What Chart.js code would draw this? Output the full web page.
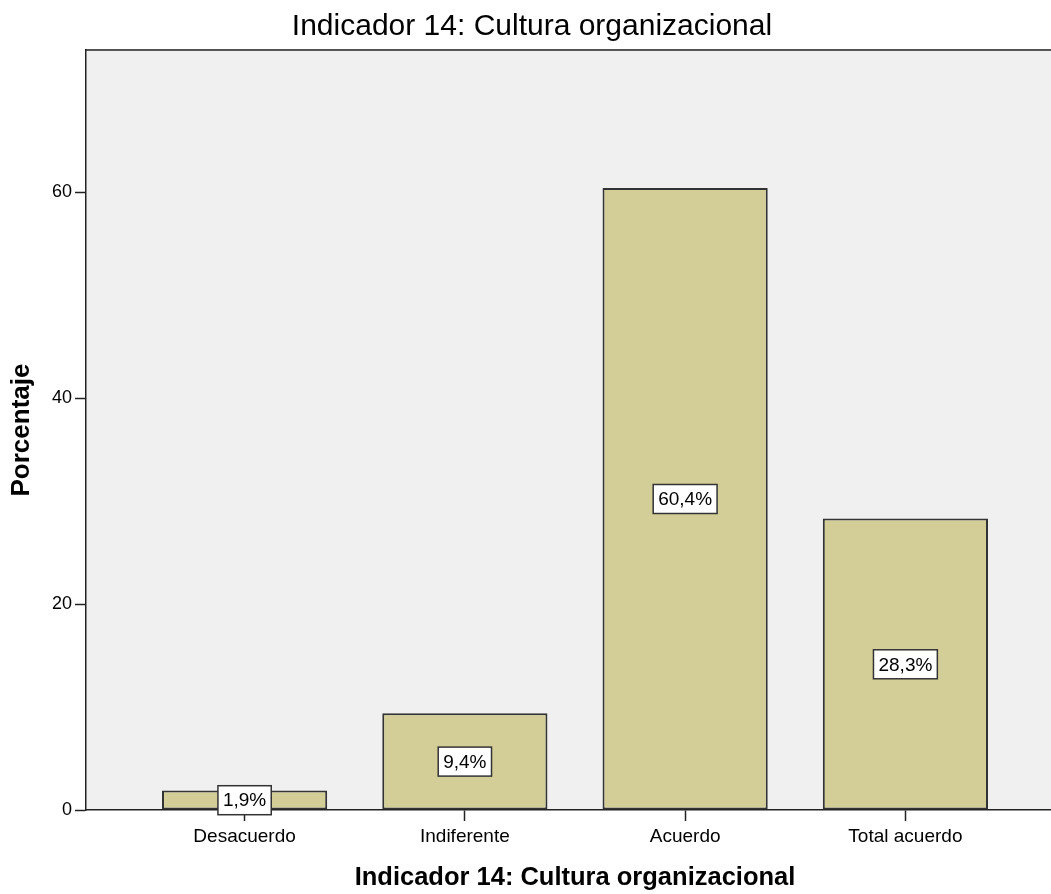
<!DOCTYPE html>
<html>
<head>
<meta charset="utf-8">
<script src="https://cdn.jsdelivr.net/npm/chart.js@4/dist/chart.umd.min.js"></script>
<style>
  html, body { margin: 0; padding: 0; background: #fff; overflow: hidden; }
  #wrap { width: 1064px; height: 894px; }
</style>
</head>
<body>
<div id="wrap"><canvas id="barChart" width="1064" height="894"></canvas></div>
<script>
// Indicador 14: Cultura organizacional
const categories = ['Desacuerdo', 'Indiferente', 'Acuerdo', 'Total acuerdo'];
const percentages = [1.9, 9.4, 60.4, 28.3];
const yTicks = [0, 20, 40, 60];
const chartTitle = 'Indicador 14: Cultura organizacional';
const yTitle = 'Porcentaje';

const FONT = "'Liberation Sans', Arial, sans-serif";

// grey plot background plus the top frame line
const plotBackground = {
    id: 'plotBackground',
    beforeDraw(chart) {
        const { ctx, chartArea: a } = chart;
        ctx.save();
        ctx.fillStyle = '#f0f0f0';
        ctx.fillRect(a.left, a.top, a.right - a.left, a.bottom - a.top);
        ctx.strokeStyle = '#555';
        ctx.lineWidth = 2;
        ctx.beginPath();
        ctx.moveTo(a.left, a.top);
        ctx.lineTo(a.right, a.top);
        ctx.stroke();
        ctx.restore();
    }
};

// boxed percentage label in the middle of each bar
const boxLabels = {
    id: 'boxLabels',
    afterDatasetsDraw(chart) {
        const { ctx } = chart;
        const yScale = chart.scales.y;
        const meta = chart.getDatasetMeta(0);
        ctx.save();
        ctx.font = '19px ' + FONT;
        ctx.textAlign = 'center';
        ctx.textBaseline = 'middle';
        meta.data.forEach((bar, i) => {
            const v = percentages[i];
            const text = v.toFixed(1).replace('.', ',') + '%';
            const w = ctx.measureText(text).width + 10;
            const h = 29;
            const cx = bar.x;
            const cy = yScale.getPixelForValue(v / 2);
            ctx.fillStyle = '#fff';
            ctx.fillRect(cx - w / 2, cy - h / 2, w, h);
            ctx.strokeStyle = '#333';
            ctx.lineWidth = 1.5;
            ctx.strokeRect(cx - w / 2, cy - h / 2, w, h);
            ctx.fillStyle = '#000';
            ctx.fillText(text, cx, cy + 1);
        });
        ctx.restore();
    }
};

const ctx = document.getElementById('barChart').getContext('2d');
const barChart = new Chart(ctx, {
    type: 'bar',
    data: {
        datasets: [{
            data: percentages.map((v, i) => ({ x: i, y: v })),
            backgroundColor: '#d3ce97',
            borderColor: '#333',
            borderWidth: 2,
            borderSkipped: false,
            barPercentage: 0.75,
            categoryPercentage: 1
        }]
    },
    options: {
        responsive: false,
        animation: false,
        layout: { padding: { top: 1, left: 0, right: 0, bottom: 0 } },
        plugins: {
            legend: { display: false },
            tooltip: { enabled: false },
            title: {
                display: true,
                text: chartTitle,
                color: '#000',
                font: { family: FONT, size: 30, weight: 'normal' },
                padding: { top: 8, bottom: 5 }
            }
        },
        scales: {
            x: {
                type: 'linear',
                min: -0.72,
                max: 3.72,
                offset: false,
                afterFit: (scale) => { scale.height = 84; },
                ticks: {
                    stepSize: 1,
                    includeBounds: false,
                    autoSkip: false,
                    maxRotation: 0,
                    padding: 4,
                    color: '#000',
                    font: { family: FONT, size: 19 },
                    callback: (v) => categories[v] ?? ''
                },
                grid: { offset: false, drawOnChartArea: false, drawTicks: true, tickLength: 11, tickColor: '#222', tickWidth: 1.5 },
                border: { display: true, color: '#222', width: 1.5 },
                title: {
                    display: true,
                    text: chartTitle,
                    color: '#000',
                    font: { family: FONT, size: 25.5, weight: 'bold' },
                    padding: { top: 0, bottom: 1 }
                }
            },
            y: {
                min: 0,
                max: 73.8,
                afterFit: (scale) => { scale.width = 86; },
                afterBuildTicks: (scale) => { scale.ticks = yTicks.map(v => ({ value: v })); },
                ticks: {
                    padding: 3,
                    color: '#000',
                    font: { family: FONT, size: 18 }
                },
                grid: { drawOnChartArea: false, drawTicks: true, tickLength: 11, tickColor: '#222', tickWidth: 1.5 },
                border: { display: true, color: '#222', width: 1.5 },
                title: {
                    display: true,
                    text: yTitle,
                    color: '#000',
                    font: { family: FONT, size: 26, weight: 'bold' },
                    padding: { top: 6, bottom: 0 }
                }
            }
        }
    },
    plugins: [plotBackground, boxLabels]
});
</script>
</body>
</html>
